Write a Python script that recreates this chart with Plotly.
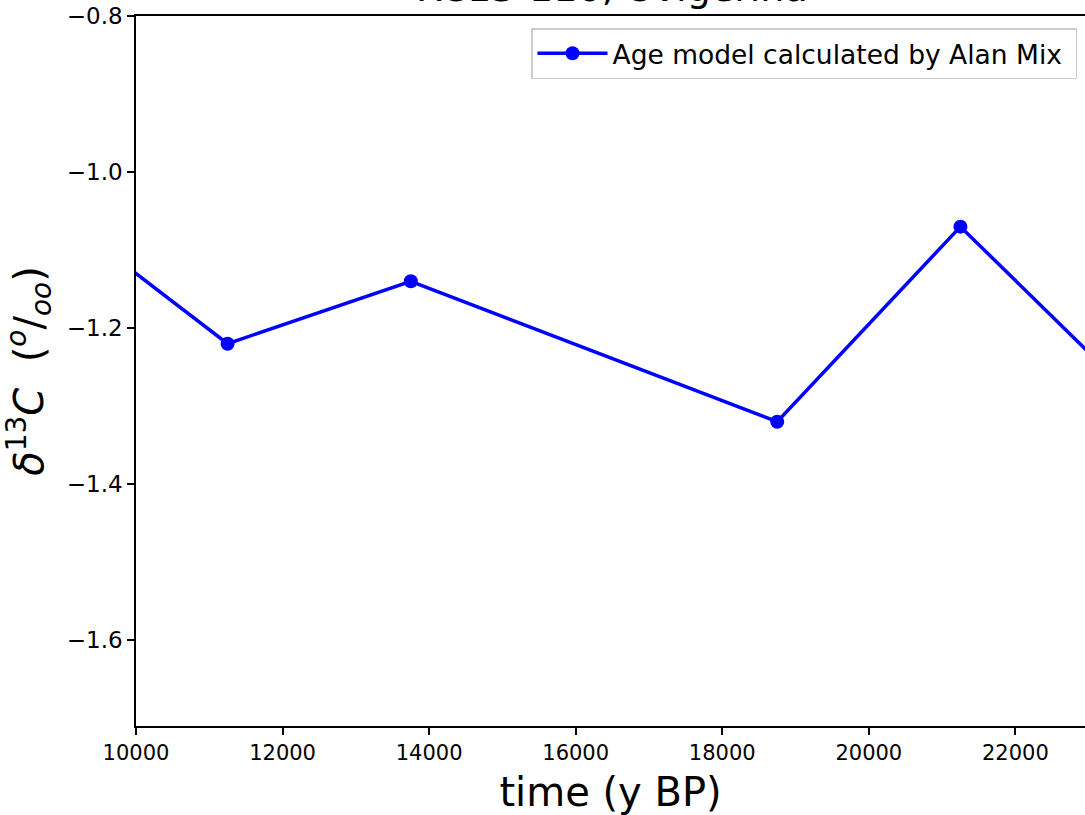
import plotly.graph_objects as go

# Data
ages = [8750, 11250, 13750, 18750, 21250, 23750]
d13c = [-1.04, -1.22, -1.14, -1.32, -1.07, -1.30]
series_name = "Age model calculated by Alan Mix"
title_text = "RC13-110, Uvigerina"

x_tickvals = [10000, 12000, 14000, 16000, 18000, 20000, 22000]
x_ticktext = ["10000", "12000", "14000", "16000", "18000", "20000", "22000"]
y_tickvals = [-1.6, -1.4, -1.2, -1.0, -0.8]
y_ticktext = ["\u22121.6", "\u22121.4", "\u22121.2", "\u22121.0", "\u22120.8"]

W, H = 1085, 815
L, R, T, B = 136, 0, 16, 89
FONT = "DejaVu Sans"

fig = go.Figure()
fig.add_trace(go.Scatter(
    x=ages, y=d13c, mode="lines+markers", name=series_name + "&nbsp;",
    line=dict(color="#0000ff", width=3.5),
    marker=dict(color="#0000ff", size=14),
    cliponaxis=True,
))

fig.update_layout(
    width=W, height=H,
    margin=dict(l=L, r=R, t=T, b=B, autoexpand=False),
    paper_bgcolor="white", plot_bgcolor="white",
    font=dict(family=FONT, color="black"),
    showlegend=True,
    legend=dict(
        x=(1077 - L) / (W - L - R), y=1 - (28 - T) / (H - T - B),
        xanchor="right", yanchor="top",
        bgcolor="white", bordercolor="#cccccc", borderwidth=1.5,
        font=dict(family=FONT, size=26.5, color="black"),
        itemwidth=70,
    ),
    xaxis=dict(
        range=[10000, 22950], tickmode="array",
        tickvals=x_tickvals, ticktext=x_ticktext,
        showgrid=False, zeroline=False,
        showline=True, linecolor="black", linewidth=1.5, mirror=True,
        ticks="outside", ticklen=7, tickwidth=1.5, tickcolor="black",
        tickfont=dict(family=FONT, size=21, color="black"),
        ticklabeloverflow="allow",
        title=dict(text="time (y BP)", font=dict(family=FONT, size=40, color="black"), standoff=15),
    ),
    yaxis=dict(
        range=[-1.71, -0.8], tickmode="array",
        tickvals=y_tickvals, ticktext=y_ticktext,
        showgrid=False, zeroline=False,
        showline=True, linecolor="black", linewidth=1.5, mirror=False,
        ticks="outside", ticklen=7, tickwidth=1.5, tickcolor="black",
        tickfont=dict(family=FONT, size=23, color="black"),
        ticklabeloverflow="allow",
        title=dict(
            text="<i>\u03b4</i><sup>13</sup><i>C</i>&nbsp;&nbsp;(<sup><i>o</i></sup>/<sub><i>oo</i></sub>)",
            font=dict(family=FONT, size=40, color="black"), standoff=30),
    ),
    annotations=[dict(
        text=title_text, xref="paper", yref="paper",
        x=(612 - L) / (W - L - R), y=1, xanchor="center", yanchor="bottom",
        yshift=4, showarrow=False,
        font=dict(family=FONT, size=38, color="black"),
    )],
)

# remove the browser's default 8px page margin so the figure fills the window
fig.write_html("out.html", config={"displayModeBar": False},
               post_script="document.body.style.margin='0';")
